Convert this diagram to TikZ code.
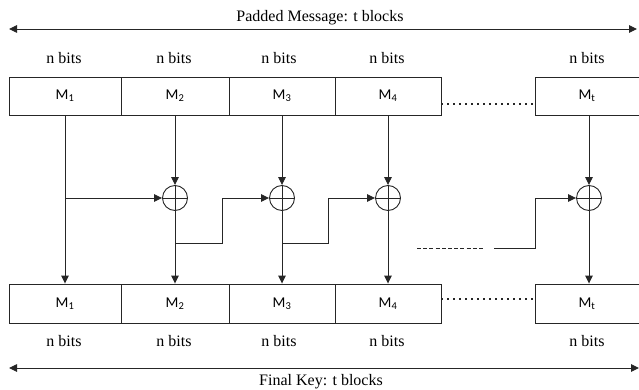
\documentclass[tikz,border=0pt]{standalone}
\usepackage{fontspec}
\setmainfont{Liberation Serif}
\newfontfamily\mfont{Carlito}
\usetikzlibrary{arrows.meta}
\begin{document}
\begin{tikzpicture}[x=1pt,y=-1pt,
  ln/.style={draw=black!85, line width=0.9pt},
  arr/.style={ln, -{Triangle[length=8pt,width=7.5pt]}},
  darr/.style={ln, {Triangle[length=8pt,width=7.5pt]}-{Triangle[length=8pt,width=7.5pt]}},
  blk/.style={ln, minimum height=38pt, inner sep=0pt, font=\mfont\fontsize{15}{15}\selectfont},
  bits/.style={font=\fontsize{16}{16}\selectfont, inner sep=0pt},
  xor/.style={circle, ln, minimum size=25pt, inner sep=0pt,
    path picture={\draw[black!85,line width=0.9pt]
      (path picture bounding box.north) -- (path picture bounding box.south)
      (path picture bounding box.west) -- (path picture bounding box.east);}},
  dotline/.style={draw=black!85, line width=1.7pt, dash pattern=on 1.7pt off 4.3pt},
  dashline/.style={draw=black!85, line width=0.9pt, dash pattern=on 4pt off 2.2pt},
]
\useasboundingbox (0,0) rectangle (639,390);

% top arrow and title
\coordinate (tl) at (9,29);
\coordinate (tr) at (637,29);
\draw[darr] (tl) -- (tr);
\node[bits] (title) at (320,18) {Padded Message: t blocks};

% top n bits
\node[bits] (nb1) at (64,58) {n bits};
\node[bits] (nb2) at (174,58) {n bits};
\node[bits] (nb3) at (279,58) {n bits};
\node[bits] (nb4) at (387,58) {n bits};
\node[bits] (nb5) at (587,58) {n bits};

% top boxes
\node[blk, minimum width=112pt] (t1) at (65,96) {M\textsubscript{1}};
\node[blk, minimum width=108pt] (t2) at (175,96) {M\textsubscript{2}};
\node[blk, minimum width=106pt] (t3) at (282,96) {M\textsubscript{3}};
\node[blk, minimum width=106pt] (t4) at (388,96) {M\textsubscript{4}};
\node[blk, minimum width=104pt] (tt) at (587,96) {M\textsubscript{t}};

% xor circles
\node[xor] (x2) at (175,198) {};
\node[xor] (x3) at (282,198) {};
\node[xor] (x4) at (388,198) {};
\node[xor] (xt) at (589,198) {};

% bottom boxes
\node[blk, minimum width=112pt, minimum height=39pt] (b1) at (65,303.5) {M\textsubscript{1}};
\node[blk, minimum width=108pt, minimum height=39pt] (b2) at (175,303.5) {M\textsubscript{2}};
\node[blk, minimum width=106pt, minimum height=39pt] (b3) at (282,303.5) {M\textsubscript{3}};
\node[blk, minimum width=106pt, minimum height=39pt] (b4) at (388,303.5) {M\textsubscript{4}};
\node[blk, minimum width=104pt, minimum height=39pt] (bt) at (587,303.5) {M\textsubscript{t}};

% bottom n bits
\node[bits] (mb1) at (64,341) {n bits};
\node[bits] (mb2) at (174,341) {n bits};
\node[bits] (mb3) at (279,341) {n bits};
\node[bits] (mb4) at (387,341) {n bits};
\node[bits] (mb5) at (587,341) {n bits};

% bottom arrow and title
\coordinate (bl) at (9,368);
\coordinate (br) at (639,368);
\draw[darr] (bl) -- (br);
\node[bits] (foot) at (321,382) {Final Key: t blocks};

% dotted separators
\draw[dotline] (t4.east |- 0,104) -- (tt.west |- 0,104);
\draw[dotline] (b4.east |- 0,299) -- (bt.west |- 0,299);

% column 1
\draw[arr] (t1.south) -- (b1.north);
\draw[arr] (t1.south |- x2.west) -- (x2.west);

% column 2
\draw[arr] (t2.south) -- (x2.north);
\draw[arr] (x2.south) -- (b2.north);
\coordinate (j2) at (222,243);
\draw[arr] (x2.center |- j2) -- (j2) |- (x3.west);

% column 3
\draw[arr] (t3.south) -- (x3.north);
\draw[arr] (x3.south) -- (b3.north);
\coordinate (j3) at (328,243);
\draw[arr] (x3.center |- j3) -- (j3) |- (x4.west);

% column 4
\draw[arr] (t4.south) -- (x4.north);
\draw[arr] (x4.south) -- (b4.north);

% column t
\draw[arr] (xt.north |- tt.south) -- (xt.north);
\draw[arr] (xt.south) -- (xt.south |- bt.north);
\coordinate (d1) at (417,248);
\coordinate (d2) at (485,248);
\coordinate (s1) at (494,248);
\coordinate (s2) at (535,248);
\draw[dashline] (d1) -- (d2);
\draw[arr] (s1) -- (s2) |- (xt.west);
\end{tikzpicture}
\end{document}
